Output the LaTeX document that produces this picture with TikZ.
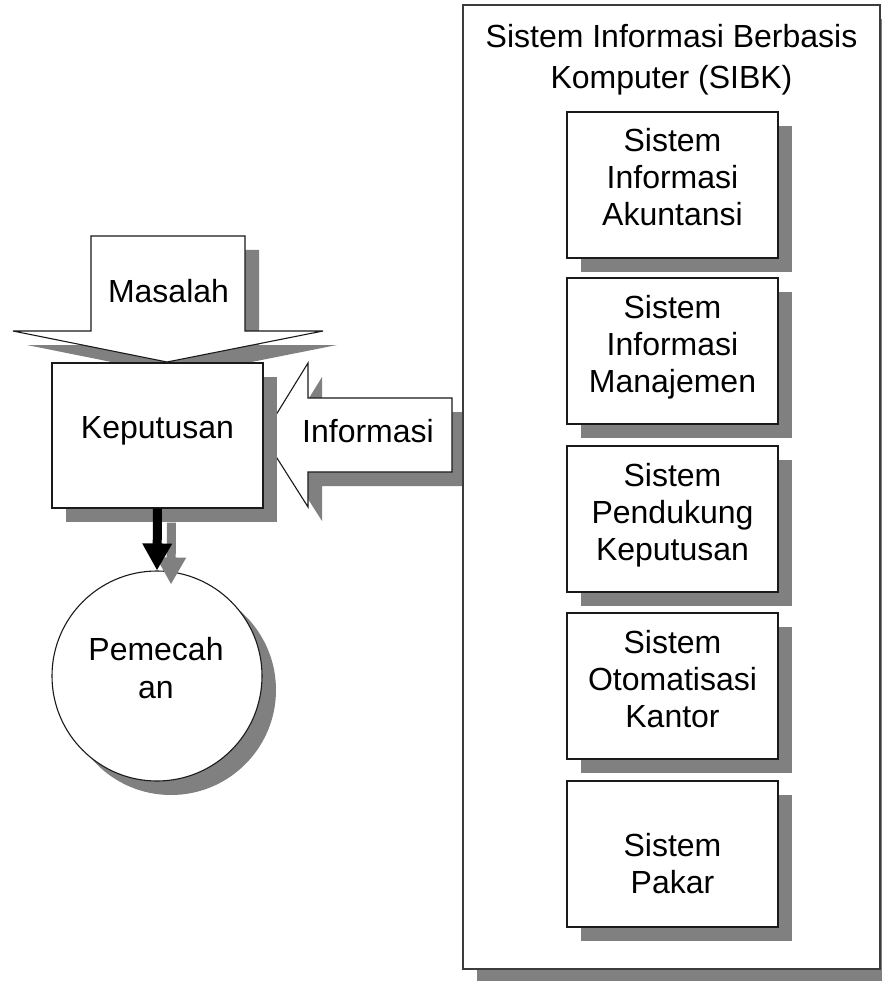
\documentclass[tikz,border=0pt]{standalone}
\usepackage{fontspec}
\setmainfont{Liberation Sans}
\usetikzlibrary{shadows,arrows.meta}
\definecolor{shadowgray}{HTML}{808080}
\definecolor{edge}{HTML}{1A1A1A}
\tikzset{
  shd/.style={drop shadow={shadow xshift=14pt,shadow yshift=-14pt,fill=shadowgray,opacity=1}},
  sbox/.style={draw=edge,line width=1.3pt,fill=white,shd,minimum width=211pt,minimum height=146pt,inner sep=0pt},
  txt/.style={align=center,font=\fontsize{32}{37}\selectfont,inner sep=0pt},
  blockarrow/.style={draw=edge,line width=1.1pt,fill=white,line join=miter}
}
\begin{document}
\begin{tikzpicture}[x=1pt,y=-1pt]
\useasboundingbox[fill=white] (0,0) rectangle (882,981);
% Masalah block arrow
\draw[blockarrow,shd] (91,236) -- (245,236) -- (245,331) -- (323,331) -- (167,362) -- (13,331) -- (91,331) -- cycle;
\node[txt] (masalah) at (168.5,291) {Masalah};
% Informasi block arrow
\draw[blockarrow,shd] (452,398) -- (308,398) -- (308,363) -- (263,436) -- (308,507) -- (308,472) -- (452,472) -- cycle;
\node[txt] (informasi) at (368,431) {Informasi};
% Keputusan box
\node[draw=edge,line width=1.3pt,fill=white,shd,minimum width=211pt,minimum height=145pt,inner sep=0pt] (kep) at (157.5,435.5) {};
\node[txt] (keptxt) at (157.5,431) {Keputusan};
% Pemecahan circle
\node[circle,draw=edge,line width=1.1pt,fill=white,shd,minimum size=210pt,inner sep=0pt] (pem) at (157,676) {};
\node[txt,font=\fontsize{32}{38}\selectfont] (pemtxt) at (156,668) {Pemecah\\an};
% down arrow with its shadow
\draw[shadowgray,line width=9pt,-{Triangle[length=27pt,width=28pt]}] ([shift={(14,14)}]kep.south) -- ([shift={(14,14)}]pem.north);
\draw[black,line width=9pt,-{Triangle[length=27pt,width=28pt]}] (kep.south) -- (pem.north);
% SIBK container
\node[draw=edge!85,line width=1.6pt,fill=white,shd,minimum width=417pt,minimum height=964pt,inner sep=0pt] (sibk) at (671.5,487) {};
\node[txt,font=\fontsize{32}{41}\selectfont] (sibktxt) at (671.5,60) {Sistem Informasi Berbasis\\Komputer (SIBK)};
% inner boxes
\node[sbox] (b1) at (672.5,185) {};
\node[txt] (t1) at (672.5,177.5) {Sistem\\Informasi\\Akuntansi};
\node[sbox] (b2) at (672.5,351) {};
\node[txt] (t2) at (672.5,347) {Sistem\\Informasi\\Manajemen};
\node[sbox] (b3) at (672.5,519) {};
\node[txt] (t3) at (672.5,515) {Sistem\\Pendukung\\Keputusan};
\node[sbox] (b4) at (672.5,686) {};
\node[txt] (t4) at (672.5,679) {Sistem\\Otomatisasi\\Kantor};
\node[sbox] (b5) at (672.5,854) {};
\node[txt] (t5) at (672.5,863.5) {Sistem\\Pakar};
\end{tikzpicture}
\end{document}
